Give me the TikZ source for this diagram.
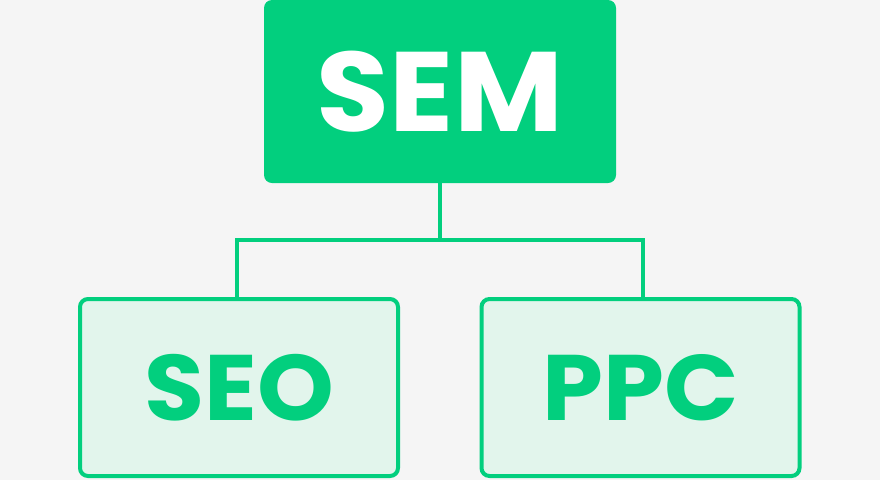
\documentclass[tikz,border=0pt]{standalone}
\usepackage{fontspec}
\setmainfont{Poppins}[UprightFont=* Bold, FakeStretch=1.05]
\definecolor{semgreen}{HTML}{02CF7E}
\definecolor{mint}{HTML}{E2F5EC}
\definecolor{bg}{HTML}{F5F5F5}
\begin{document}
\begin{tikzpicture}[x=1pt,y=-1pt,
  topbox/.style={fill=semgreen, rounded corners=8pt, minimum width=352pt, minimum height=183pt, inner sep=0pt,
    text=white, font=\fontsize{113}{113}\selectfont},
  subbox/.style={draw=semgreen, line width=4pt, fill=mint, rounded corners=8pt, minimum width=318pt, minimum height=177pt, inner sep=0pt,
    text=semgreen, font=\fontsize{93}{93}\selectfont},
  link/.style={draw=semgreen, line width=4pt}]
\fill[bg] (0,0) rectangle (880,480);
\useasboundingbox (0,0) rectangle (880,480);
\node[topbox] (sem) at (440,91.5) {SEM};
\node[subbox] (seo) at (239,387.5) {SEO};
\node[subbox] (ppc) at (640.5,387.5) {PPC};
\coordinate (j) at (440,240);
\draw[link] (sem.south) -- (j);
\draw[link] ([xshift=-2pt]seo.north) |- (j) -| ([xshift=2.5pt]ppc.north);
\end{tikzpicture}
\end{document}
